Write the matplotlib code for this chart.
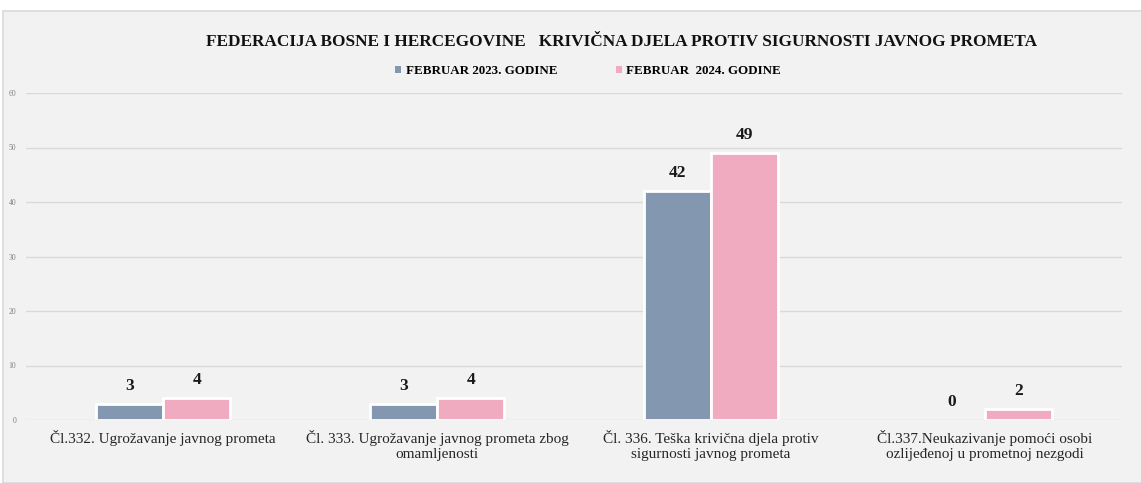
import numpy as np
import matplotlib
matplotlib.use("Agg")
import matplotlib.pyplot as plt
from matplotlib.patches import Rectangle

categories = [
    "Čl.332. Ugrožavanje javnog prometa",
    "Čl. 333. Ugrožavanje javnog prometa zbog\nomamljenosti",
    "Čl. 336. Teška krivična djela protiv\nsigurnosti javnog prometa",
    "Čl.337.Neukazivanje pomoći osobi\nozlijeđenoj u prometnoj nezgodi",
]
feb_2023 = [3, 3, 42, 0]
feb_2024 = [4, 4, 49, 2]
series_names = ["FEBRUAR 2023. GODINE", "FEBRUAR  2024. GODINE"]
y_ticks = [0, 10, 20, 30, 40, 50, 60]

blue = "#8497B0"
pink = "#F1ABC1"
bg = "#F2F2F2"
grid_col = "#D9D9D9"
serif = ["Liberation Serif", "DejaVu Serif"]

fig = plt.figure(figsize=(11.41, 4.83), dpi=100)
fig.patch.set_facecolor("white")
# chart area panel with light border
fig.patches.append(Rectangle((3 / 1141, 0), 1.0, 1 - 11 / 483, transform=fig.transFigure,
                             facecolor=bg, edgecolor=grid_col, linewidth=1.2, zorder=-10))

ax = fig.add_axes([26 / 1141, 1 - 420 / 483, (1122 - 26) / 1141, (420 - 93) / 483])
ax.patch.set_alpha(0)

x = np.arange(len(categories))
w = 0.246
b1 = ax.bar(x - w / 2, feb_2023, w, color=blue, edgecolor="white", linewidth=2, zorder=3,
            label=series_names[0])
b2 = ax.bar(x + w / 2, feb_2024, w, color=pink, edgecolor="white", linewidth=2, zorder=3,
            label=series_names[1])

for bars in (b1, b2):
    for r in bars:
        if r.get_height() == 0:
            r.set_linewidth(0)
        ax.annotate(f"{int(r.get_height())}", (r.get_x() + r.get_width() / 2, r.get_height()),
                    xytext=(0, 7), textcoords="offset points", ha="center", va="bottom",
                    fontsize=12.5, fontweight="bold", family=serif, color="#1a1a1a")

ax.set_ylim(0, 60)
ax.set_xlim(-0.5, len(categories) - 0.5)
ax.set_yticks(y_ticks)
ax.set_yticklabels([str(v) for v in y_ticks], fontsize=5.5, color="#808080", family=serif)
ax.set_xticks(x)
ax.set_xticklabels(categories, fontsize=11, family=serif, color="#262626", linespacing=1.25)
ax.tick_params(axis="both", length=0)
ax.tick_params(axis="y", pad=7)
ax.tick_params(axis="x", pad=7)
ax.grid(axis="y", color=grid_col, linewidth=1)
ax.set_axisbelow(True)
for s in ax.spines.values():
    s.set_visible(False)

fig.text(622 / 1141, 1 - 42 / 483,
         "FEDERACIJA BOSNE I HERCEGOVINE   KRIVIČNA DJELA PROTIV SIGURNOSTI JAVNOG PROMETA",
         ha="center", va="center", fontsize=12.4, fontweight="bold", family=serif, color="#111111")

leg = fig.legend(handles=[b1, b2], loc="center", bbox_to_anchor=(588 / 1141, 1 - 71 / 483),
                 ncol=2, frameon=False, prop={"family": serif, "weight": "bold", "size": 9.4},
                 handlelength=0.45, handleheight=0.45, handletextpad=0.35, columnspacing=4.5)
for h in leg.legend_handles:
    h.set_linewidth(0)

fig.savefig("out.png", dpi=100, facecolor=fig.get_facecolor())
